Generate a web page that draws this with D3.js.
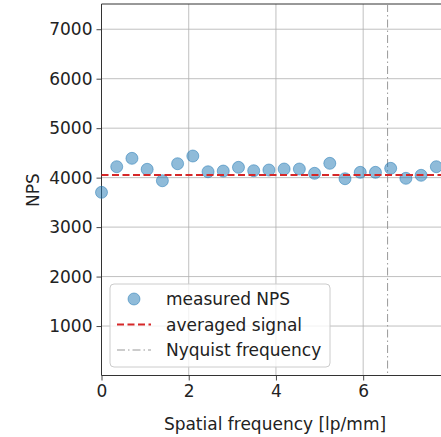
<!DOCTYPE html>
<html>
<head>
<meta charset="utf-8">
<script src="https://cdn.jsdelivr.net/npm/d3@7"></script>
<style>
  body { margin: 0; background: #fff; }
  text { font-family: "DejaVu Sans", sans-serif; }
</style>
</head>
<body>
<svg width="441" height="437"></svg>
<script>
// spatial frequency sample points [lp/mm], step ~0.349
var freqs = [0, 0.349, 0.698, 1.047, 1.396, 1.745, 2.094, 2.443, 2.792, 3.141, 3.49, 3.839,
  4.188, 4.537, 4.886, 5.235, 5.584, 5.933, 6.282, 6.631, 6.98, 7.329, 7.678];
var nps = [3703, 4221, 4390, 4168, 3937, 4281, 4437, 4119, 4133, 4208, 4140, 4154,
  4174, 4174, 4087, 4289, 3978, 4107, 4107, 4188, 3986, 4047, 4221];
var avgSignal = 4053;
var nyquist = 6.56;
var xTicks = [0, 2, 4, 6];
var yTicks = [1000, 2000, 3000, 4000, 5000, 6000, 7000];
var legendItems = ["measured NPS", "averaged signal", "Nyquist frequency"];

var svg = d3.select("svg");
var mLeft = 101.5, mTop = 4, mBottom = 375.5, mRight = 441;
var fs = "17px";

var x = d3.scaleLinear().domain([0, 7.785]).range([mLeft, mRight]);
var y = d3.scaleLinear().domain([0, 7510]).range([mBottom, mTop]);

// grid
svg.append("g").selectAll("line").data(xTicks.slice(1)).enter().append("line")
  .attr("x1", function (d) { return x(d); }).attr("x2", function (d) { return x(d); })
  .attr("y1", mTop).attr("y2", mBottom)
  .attr("stroke", "#b0b0b0").attr("stroke-width", 0.8);
svg.append("g").selectAll("line").data(yTicks).enter().append("line")
  .attr("x1", mLeft).attr("x2", mRight)
  .attr("y1", function (d) { return y(d); }).attr("y2", function (d) { return y(d); })
  .attr("stroke", "#b0b0b0").attr("stroke-width", 0.8);

// axes
var xAxis = svg.append("g").attr("transform", "translate(0," + mBottom + ")")
  .call(d3.axisBottom(x).tickValues(xTicks).tickSize(5).tickPadding(4).tickFormat(d3.format("d")));
var yAxis = svg.append("g").attr("transform", "translate(" + mLeft + ",0)")
  .call(d3.axisLeft(y).tickValues(yTicks).tickSize(5).tickPadding(4).tickFormat(d3.format("d")));
[xAxis, yAxis].forEach(function (g) {
  g.select(".domain").remove();
  g.selectAll(".tick line").attr("stroke", "#333").attr("stroke-width", 0.9);
  g.selectAll(".tick text").attr("fill", "#222").style("font-size", fs)
    .style("font-family", "DejaVu Sans");
});

// spines
svg.append("line").attr("x1", mLeft).attr("x2", mRight).attr("y1", mBottom).attr("y2", mBottom)
  .attr("stroke", "#333").attr("stroke-width", 1);
svg.append("line").attr("x1", mLeft).attr("x2", mRight).attr("y1", mTop).attr("y2", mTop)
  .attr("stroke", "#333").attr("stroke-width", 1);
svg.append("line").attr("x1", mLeft).attr("x2", mLeft).attr("y1", mTop).attr("y2", mBottom)
  .attr("stroke", "#333").attr("stroke-width", 1);

// nyquist line
svg.append("line").attr("x1", x(nyquist)).attr("x2", x(nyquist)).attr("y1", mTop).attr("y2", mBottom)
  .attr("stroke", "#999").attr("stroke-width", 1).attr("stroke-dasharray", "8,3,1.5,3");

// points
svg.append("g").selectAll("circle").data(freqs).enter().append("circle")
  .attr("cx", function (d) { return x(d); })
  .attr("cy", function (d, i) { return y(nps[i]); })
  .attr("r", 6)
  .attr("fill", "#1f77b4").attr("fill-opacity", 0.5)
  .attr("stroke", "#1f77b4").attr("stroke-opacity", 0.5).attr("stroke-width", 1);

// averaged signal
svg.append("line").attr("x1", mLeft).attr("x2", mRight)
  .attr("y1", y(avgSignal)).attr("y2", y(avgSignal))
  .attr("stroke", "#d62728").attr("stroke-width", 2).attr("stroke-dasharray", "7,3.5");

// axis labels
svg.append("text").attr("x", 275).attr("y", 430).attr("text-anchor", "middle")
  .style("font-size", fs).attr("fill", "#222").text("Spatial frequency [lp/mm]");
svg.append("text").attr("transform", "translate(39,190) rotate(-90)").attr("text-anchor", "middle")
  .style("font-size", fs).attr("fill", "#222").text("NPS");

// legend
var lg = svg.append("g");
lg.append("rect").attr("x", 110).attr("y", 284).attr("width", 220).attr("height", 83)
  .attr("rx", 4).attr("fill", "#fff").attr("fill-opacity", 0.8)
  .attr("stroke", "#ccc").attr("stroke-width", 1);
var rows = [299, 324.5, 350];
lg.append("circle").attr("cx", 134).attr("cy", rows[0]).attr("r", 6)
  .attr("fill", "#1f77b4").attr("fill-opacity", 0.5)
  .attr("stroke", "#1f77b4").attr("stroke-opacity", 0.5);
lg.append("line").attr("x1", 117).attr("x2", 151).attr("y1", rows[1]).attr("y2", rows[1])
  .attr("stroke", "#d62728").attr("stroke-width", 2).attr("stroke-dasharray", "7,3.5");
lg.append("line").attr("x1", 117).attr("x2", 151).attr("y1", rows[2]).attr("y2", rows[2])
  .attr("stroke", "#999").attr("stroke-width", 1).attr("stroke-dasharray", "8,3,1.5,3");
lg.selectAll("text.lab").data(legendItems).enter().append("text").attr("class", "lab")
  .attr("x", 166).attr("y", function (d, i) { return rows[i] + 6; })
  .style("font-size", fs).attr("fill", "#222").text(function (d) { return d; });
</script>
</body>
</html>
